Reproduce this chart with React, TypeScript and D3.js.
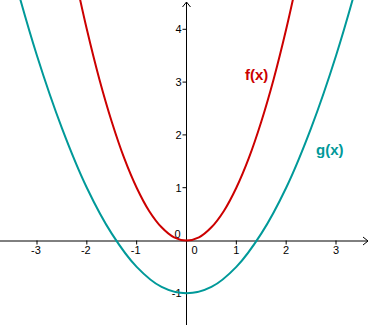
// Two parabolas on a cartesian grid: f(x) in red, g(x) in teal
import React, { useEffect, useRef } from "react"
import * as d3 from "d3"

const W = 369
const H = 327

// sample points
const fX = [-2.25, -2, -1.75, -1.5, -1.25, -1, -0.75, -0.5, -0.25, 0, 0.25, 0.5, 0.75, 1, 1.25, 1.5, 1.75, 2, 2.25]
const fY = [5.06, 4, 3.06, 2.25, 1.56, 1, 0.56, 0.25, 0.06, 0, 0.06, 0.25, 0.56, 1, 1.56, 2.25, 3.06, 4, 5.06]

const gX = [-4, -3.5, -3, -2.5, -2, -1.5, -1, -0.5, 0, 0.5, 1, 1.5, 2, 2.5, 3, 3.5, 4]
const gY = [7, 5.13, 3.5, 2.13, 1, 0.13, -0.5, -0.88, -1, -0.88, -0.5, 0.13, 1, 2.13, 3.5, 5.13, 7]

const xTicks = [-3, -2, -1, 1, 2, 3]
const yTicks = [-1, 1, 2, 3, 4]

const RED = "#cc0000"
const TEAL = "#009999"

export default function App() {
  const ref = useRef<SVGSVGElement>(null)

  useEffect(() => {
    const svg = d3.select(ref.current)
    svg.selectAll("*").remove()

    const x = d3.scaleLinear().domain([-3, 3]).range([37, 336])
    const y = d3.scaleLinear().domain([-1, 4]).range([293.3, 29.3])
    const x0 = x(0)
    const y0 = y(0)
    const font = "'Liberation Sans', Arial, sans-serif"

    svg.append("rect").attr("width", W).attr("height", H).attr("fill", "#fff")

    svg.append("clipPath").attr("id", "plot")
      .append("rect").attr("width", W).attr("height", H)

    // axes
    const ax = svg.append("g").attr("stroke", "#000").attr("stroke-width", 1).attr("fill", "none")
    ax.append("line").attr("x1", 0).attr("x2", W - 1).attr("y1", y0 + 0.5).attr("y2", y0 + 0.5)
    ax.append("line").attr("x1", x0).attr("x2", x0).attr("y1", H - 2).attr("y2", 2)
    ax.append("path").attr("d", `M${W - 6},${y0 - 3.5}L${W - 1},${y0 + 0.5}L${W - 6},${y0 + 4.5}`)
    ax.append("path").attr("d", `M${x0 - 4},${7}L${x0},${2}L${x0 + 4},${7}`)

    ax.selectAll(".xt").data(xTicks).enter().append("line")
      .attr("x1", d => x(d)).attr("x2", d => x(d))
      .attr("y1", y0).attr("y2", y0 + 4)
    ax.selectAll(".yt").data(yTicks).enter().append("line")
      .attr("x1", x0 - 4).attr("x2", x0)
      .attr("y1", d => y(d)).attr("y2", d => y(d))

    const lab = svg.append("g").attr("font-family", font).attr("font-size", 11).attr("fill", "#000")
    lab.selectAll(".xl").data(xTicks).enter().append("text")
      .attr("x", d => x(d) + (d < 0 ? -1 : 0)).attr("y", y0 + 10)
      .attr("dy", "0.35em").attr("text-anchor", "middle")
      .text(d => String(d))
    lab.selectAll(".yl").data(yTicks).enter().append("text")
      .attr("x", x0 - 5).attr("y", d => y(d))
      .attr("dy", "0.35em").attr("text-anchor", "end")
      .text(d => String(d))
    lab.append("text").attr("x", x0 + 8).attr("y", y0 + 10).attr("dy", "0.35em")
      .attr("text-anchor", "middle").text("0")
    lab.append("text").attr("x", x0 - 9).attr("y", y0 - 6).attr("dy", "0.35em")
      .attr("text-anchor", "middle").text("0")

    // curves
    const line = d3.line<[number, number]>()
      .x(d => x(d[0])).y(d => y(d[1]))
      .curve(d3.curveCatmullRom)

    const curves = svg.append("g").attr("clip-path", "url(#plot)").attr("fill", "none")
      .attr("stroke-width", 2)
    curves.append("path").attr("d", line(gX.map((v, i) => [v, gY[i]])))
      .attr("stroke", TEAL)
    curves.append("path").attr("d", line(fX.map((v, i) => [v, fY[i]])))
      .attr("stroke", RED)

    svg.append("text").attr("x", 245).attr("y", 80)
      .attr("font-family", font).attr("font-size", 15).attr("font-weight", "bold")
      .attr("fill", RED).text("f(x)")
    svg.append("text").attr("x", 316).attr("y", 155)
      .attr("font-family", font).attr("font-size", 15).attr("font-weight", "bold")
      .attr("fill", TEAL).text("g(x)")
  }, [])

  return (
    <svg ref={ref} width={W} height={H}
      style={{ position: "absolute", left: 0, top: 0, display: "block" }} />
  )
}
